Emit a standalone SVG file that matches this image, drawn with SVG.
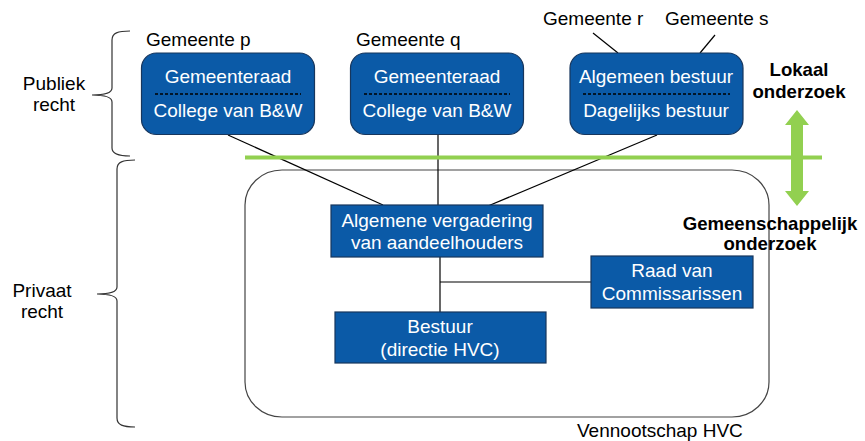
<svg xmlns="http://www.w3.org/2000/svg" width="865" height="441" viewBox="0 0 865 441">
<style>
text{font-family:"Liberation Sans",Arial,sans-serif;font-size:19px;fill:#000}
.w{fill:#fff;text-anchor:middle}
.b{font-weight:bold;font-size:18.6px;text-anchor:middle}
.c{text-anchor:middle}
.box{fill:#0B5AA7;stroke:#17365D;stroke-width:1.2}
.ln{stroke:#000;stroke-width:1.2;fill:none}
.dash{stroke:#000;stroke-width:1.5;stroke-dasharray:3 2}
.br{stroke:#333;stroke-width:1.2;fill:none}
</style>
<rect width="865" height="441" fill="#fff"/>
<g id="braces">
<path class="br" d="M130,31 C118,31 112,33 112,40 L112,88 C112,93 106,95 92,95 C106,95 112,97 112,102 L112,148 C112,154 118,156 130,156"/>
<path class="br" d="M135,160 C123,160 117,162 117,169 L117,287 C117,292 111,294 97,294 C111,294 117,296 117,301 L117,418 C117,425 123,427 135,427"/>
<text class="c" x="54" y="90">Publiek</text>
<text class="c" x="54" y="111">recht</text>
<text class="c" x="42" y="297">Privaat</text>
<text class="c" x="42" y="318">recht</text>
</g>
<g id="vennootschap">
<rect x="245" y="170" width="524" height="247" rx="37" ry="35" fill="none" stroke="#444" stroke-width="1.2"/>
<text x="577" y="437">Vennootschap HVC</text>
</g>
<g id="connectors">
<line class="ln" x1="228" y1="135" x2="383" y2="205"/>
<line class="ln" x1="438" y1="135" x2="438" y2="205"/>
<line class="ln" x1="657" y1="135" x2="488" y2="206"/>
<line class="ln" x1="593" y1="33" x2="618" y2="53"/>
<line class="ln" x1="715" y1="35" x2="700" y2="53"/>
<line class="ln" x1="440" y1="257" x2="440" y2="312"/>
<line class="ln" x1="440" y1="282" x2="591" y2="282"/>
</g>
<g id="grens">
<line x1="245" y1="157.5" x2="822" y2="157.5" stroke="#92D050" stroke-width="4"/>
<polygon points="797,110 809,125 803,125 803,191 809,191 797,206 785,191 791,191 791,125 785,125" fill="#92D050"/>
</g>
<g id="gemeente-p">
<text x="146" y="46">Gemeente p</text>
<rect class="box" x="141.5" y="53" width="173" height="81.5" rx="15"/>
<text class="w" x="228" y="83">Gemeenteraad</text>
<line class="dash" x1="155" y1="94" x2="301" y2="94"/>
<text class="w" x="228" y="117">College van B&amp;W</text>
</g>
<g id="gemeente-q">
<text x="356" y="46">Gemeente q</text>
<rect class="box" x="350.5" y="53" width="173" height="81.5" rx="15"/>
<text class="w" x="437" y="83">Gemeenteraad</text>
<line class="dash" x1="364" y1="94" x2="510" y2="94"/>
<text class="w" x="437" y="117">College van B&amp;W</text>
</g>
<g id="gemeente-rs">
<text x="543" y="25">Gemeente r</text>
<text x="665" y="25">Gemeente s</text>
<rect class="box" x="570" y="53" width="173" height="81.5" rx="15"/>
<text class="w" x="656" y="83">Algemeen bestuur</text>
<line class="dash" x1="583" y1="94" x2="730" y2="94"/>
<text class="w" x="656" y="117">Dagelijks bestuur</text>
</g>
<g id="ava">
<rect class="box" x="331" y="205" width="212" height="52"/>
<text class="w" x="437" y="227">Algemene vergadering</text>
<text class="w" x="437" y="249">van aandeelhouders</text>
</g>
<g id="rvc">
<rect class="box" x="591" y="256" width="162" height="52"/>
<text class="w" x="672" y="277">Raad van</text>
<text class="w" x="672" y="300">Commissarissen</text>
</g>
<g id="bestuur">
<rect class="box" x="335" y="312" width="211" height="51"/>
<text class="w" x="440" y="333">Bestuur</text>
<text class="w" x="440" y="356">(directie HVC)</text>
</g>
<g id="onderzoek">
<text class="b" x="799" y="76">Lokaal</text>
<text class="b" x="799" y="98">onderzoek</text>
<text class="b" x="770" y="230">Gemeenschappelijk</text>
<text class="b" x="770" y="250">onderzoek</text>
</g>
</svg>
